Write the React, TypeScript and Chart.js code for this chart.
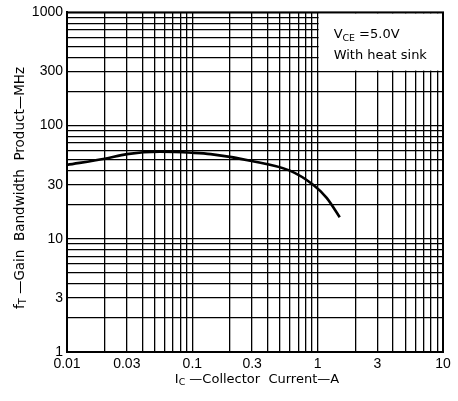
import React, { useEffect, useRef } from 'react';
import { Chart, registerables } from 'chart.js';

Chart.register(...registerables);

// ---- data ----
const collectorCurrentA = [0.01, 0.02, 0.03, 0.055, 0.1, 0.14, 0.29, 0.6, 0.92, 1.18, 1.5];
const gainBandwidthMHz = [45, 51, 56, 58.7, 57.5, 56, 49, 40, 30, 23, 15.5];
const xTickLabels = ['0.01', '0.03', '0.1', '0.3', '1', '3', '10'];
const yTickLabels = ['1', '3', '10', '30', '100', '300', '1000'];
const xRange = [0.01, 10];
const yRange = [1, 1000];

type Seg = { t: string; sub?: boolean };
const yTitle: Seg[] = [{ t: 'f' }, { t: 'T', sub: true }, { t: ' \u2014Gain  Bandwidth  Product\u2014MHz' }];
const xTitle: Seg[] = [{ t: 'I' }, { t: 'C', sub: true }, { t: ' \u2014Collector  Current\u2014A' }];
const noteLine1: Seg[] = [{ t: 'V' }, { t: 'CE', sub: true }, { t: ' =5.0V' }];
const noteLine2: Seg[] = [{ t: 'With heat sink' }];

function logTicks(min: number, max: number) {
  const out: { value: number }[] = [];
  const e0 = Math.round(Math.log10(min));
  const e1 = Math.round(Math.log10(max));
  for (let e = e0; e < e1; e++) {
    for (let m = 1; m < 10; m++) out.push({ value: parseFloat((m * Math.pow(10, e)).toPrecision(4)) });
  }
  out.push({ value: max });
  return out;
}

function labelFor(labels: string[], v: number) {
  const hit = labels.find((l) => Math.abs(Number(l) - v) / v < 1e-6);
  return hit ?? '';
}

const FONT = 'DejaVu Sans';

function drawRich(ctx: CanvasRenderingContext2D, segs: Seg[], x: number, y: number, size: number, align: 'left' | 'center') {
  const subSize = size * 0.72;
  let total = 0;
  const widths = segs.map((s) => {
    ctx.font = `${s.sub ? subSize : size}px "${FONT}"`;
    const w = ctx.measureText(s.t).width;
    total += w;
    return w;
  });
  let cx = align === 'center' ? x - total / 2 : x;
  segs.forEach((s, i) => {
    ctx.font = `${s.sub ? subSize : size}px "${FONT}"`;
    ctx.fillText(s.t, cx, s.sub ? y + size * 0.22 : y);
    cx += widths[i];
  });
}

const decorPlugin = {
  id: 'decor',
  beforeDatasetsDraw(chart: any) {
    const { ctx, scales } = chart;
    const xs = scales.x, ys = scales.y;
    const l = xs.getPixelForValue(1), r = xs.getPixelForValue(10);
    const t = ys.getPixelForValue(1000), b = ys.getPixelForValue(300);
    ctx.save();
    ctx.fillStyle = '#fff';
    ctx.fillRect(l + 1, t + 1, r - l - 2, b - t - 2);
    ctx.fillStyle = '#000';
    ctx.textBaseline = 'alphabetic';
    drawRich(ctx, noteLine1, l + 16, t + 26, 13, 'left');
    drawRich(ctx, noteLine2, l + 16, t + 47, 13, 'left');
    ctx.restore();
  },
  afterDatasetsDraw(chart: any) {
    const { ctx, chartArea } = chart;
    ctx.save();
    ctx.strokeStyle = '#000';
    ctx.lineWidth = 2;
    ctx.strokeRect(chartArea.left, chartArea.top, chartArea.right - chartArea.left, chartArea.bottom - chartArea.top);
    ctx.fillStyle = '#000';
    ctx.textBaseline = 'alphabetic';
    drawRich(ctx, xTitle, (chartArea.left + chartArea.right) / 2 + 2, 382.5, 13, 'center');
    ctx.translate(23.5, 188);
    ctx.rotate(-Math.PI / 2);
    drawRich(ctx, yTitle, 0, 0, 13.5, 'center');
    ctx.restore();
  },
};

export default function App() {
  const ref = useRef<HTMLCanvasElement>(null);
  useEffect(() => {
    if (!ref.current) return;
    const data = collectorCurrentA.map((x, i) => ({ x, y: gainBandwidthMHz[i] }));
    const chart = new Chart(ref.current, {
      type: 'line',
      data: {
        datasets: [
          {
            data,
            borderColor: '#000',
            borderWidth: 2.6,
            pointRadius: 0,
            fill: false,
            cubicInterpolationMode: 'monotone',
          },
        ],
      },
      options: {
        animation: false,
        responsive: false,
        maintainAspectRatio: false,
        layout: { padding: { top: 11, right: 15, left: 0, bottom: 0 } },
        plugins: { legend: { display: false }, tooltip: { enabled: false }, title: { display: false } },
        scales: {
          x: {
            type: 'logarithmic',
            min: xRange[0],
            max: xRange[1],
            afterBuildTicks: (s: any) => { s.ticks = logTicks(xRange[0], xRange[1]); },
            afterFit: (s: any) => { s.height = 49; },
            ticks: {
              autoSkip: false,
              maxRotation: 0,
              minRotation: 0,
              padding: 4,
              color: '#000',
              font: { family: 'Liberation Sans', size: 14 },
              callback: (v: any) => labelFor(xTickLabels, Number(v)),
            },
            grid: { color: '#000', lineWidth: 1.3, drawTicks: false },
            border: { color: '#000', width: 2 },
          },
          y: {
            type: 'logarithmic',
            min: yRange[0],
            max: yRange[1],
            afterBuildTicks: (s: any) => { s.ticks = logTicks(yRange[0], yRange[1]); },
            afterFit: (s: any) => { s.width = 67; },
            ticks: {
              autoSkip: false,
              padding: 4,
              color: '#000',
              font: { family: 'Liberation Sans', size: 14 },
              callback: (v: any) => labelFor(yTickLabels, Number(v)),
            },
            grid: { color: '#000', lineWidth: 1.3, drawTicks: false },
            border: { color: '#000', width: 2 },
          },
        },
      },
      plugins: [decorPlugin],
    } as any);
    return () => chart.destroy();
  }, []);
  return (
    <div style={{ position: 'absolute', left: 0, top: 0, width: 458, height: 401, background: '#fff' }}>
      <canvas ref={ref} width={458} height={401} style={{ width: 458, height: 401, display: 'block' }} />
    </div>
  );
}
